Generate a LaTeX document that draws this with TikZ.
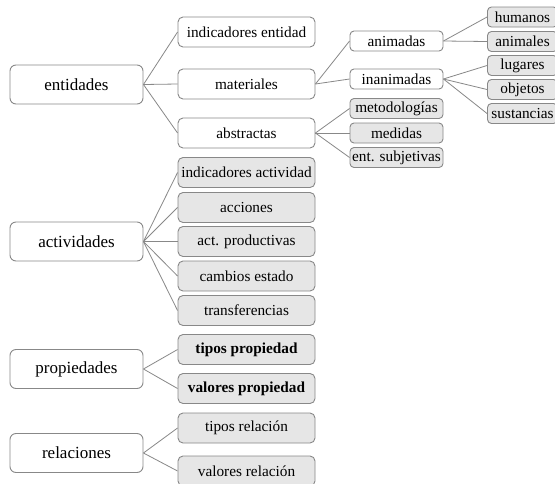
\documentclass[tikz,border=0pt]{standalone}
\usepackage{fontspec}
\setmainfont{Liberation Serif}
\definecolor{edgegray}{HTML}{888888}
\definecolor{leafgray}{HTML}{E6E6E6}
\begin{document}
\begin{tikzpicture}[x=1pt,y=-1pt,
  box/.style={draw=edgegray,line width=0.9pt,inner sep=0pt,anchor=center,align=center},
  rootbox/.style={box,rounded corners=6pt,minimum width=133pt,minimum height=39pt,fill=white,font=\fontsize{17}{20}\selectfont},
  catbox/.style={box,rounded corners=5pt,minimum width=137pt,minimum height=30pt,font=\fontsize{15.3}{18}\selectfont},
  subbox/.style={box,rounded corners=4pt,minimum width=93pt,minimum height=20pt,font=\fontsize{15.3}{18}\selectfont},
  tipbox/.style={box,rounded corners=4pt,minimum width=70pt,minimum height=20pt,font=\fontsize{15.3}{18}\selectfont},
  inner/.style={fill=white},
  leaf/.style={fill=leafgray},
  link/.style={draw=edgegray,line width=0.8pt}]
\clip (0,0) rectangle (555,483);
\fill[white] (0,0) rectangle (555,483);

% top level
\node[rootbox] (ent) at (76.5,84.5) {entidades};
\node[rootbox] (act) at (76.5,241.5) {actividades};
\node[rootbox] (prop) at (76.5,369) {propiedades};
\node[rootbox] (rel) at (76.5,453) {relaciones};

% entities
\node[catbox,inner] (indent) at (246.5,32) {indicadores entidad};
\node[catbox,inner] (mat) at (246.5,84) {materiales};
\node[catbox,inner] (abs) at (246.5,133) {abstractas};

\node[subbox,inner] (anim) at (396.5,41) {animadas};
\node[subbox,inner] (inan) at (396.5,79) {inanimadas};
\node[subbox,leaf] (met) at (396.5,108.5) {metodologías};
\node[subbox,leaf] (med) at (396.5,133) {medidas};
\node[subbox,leaf] (subj) at (396.5,157.5) {ent. subjetivas};

\node[tipbox,leaf] (hum) at (522.5,17) {humanos};
\node[tipbox,leaf] (ani) at (522.5,41.5) {animales};
\node[tipbox,leaf] (lug) at (522.5,65.5) {lugares};
\node[tipbox,leaf] (obj) at (522.5,89.5) {objetos};
\node[tipbox,leaf] (sus) at (522.5,113.5) {sustancias};

% activities
\node[catbox,leaf] (indact) at (246.5,172.5) {indicadores actividad};
\node[catbox,leaf] (acc) at (246.5,207.5) {acciones};
\node[catbox,leaf] (prod) at (246.5,241.5) {act. productivas};
\node[catbox,leaf] (camb) at (246.5,276) {cambios estado};
\node[catbox,leaf] (trans) at (246.5,310.5) {transferencias};

% properties
\node[catbox,leaf] (tprop) at (246.5,349.5) {\textbf{tipos propiedad}};
\node[catbox,leaf] (vprop) at (246.5,388.5) {\textbf{valores propiedad}};

% relations
\node[catbox,leaf] (trel) at (246.5,428) {tipos relación};
\node[catbox,leaf] (vrel) at (246.5,471) {valores relación};

% connectors
\foreach \c in {indent,mat,abs} \draw[link] (ent.east) -- (\c.west);
\foreach \c in {anim,inan} \draw[link] (mat.east) -- (\c.west);
\foreach \c in {met,med,subj} \draw[link] (abs.east) -- (\c.west);
\foreach \c in {hum,ani} \draw[link] (anim.east) -- (\c.west);
\foreach \c in {lug,obj,sus} \draw[link] (inan.east) -- (\c.west);
\foreach \c in {indact,acc,prod,camb,trans} \draw[link] (act.east) -- (\c.west);
\foreach \c in {tprop,vprop} \draw[link] (prop.east) -- (\c.west);
\foreach \c in {trel,vrel} \draw[link] (rel.east) -- (\c.west);
\end{tikzpicture}
\end{document}
